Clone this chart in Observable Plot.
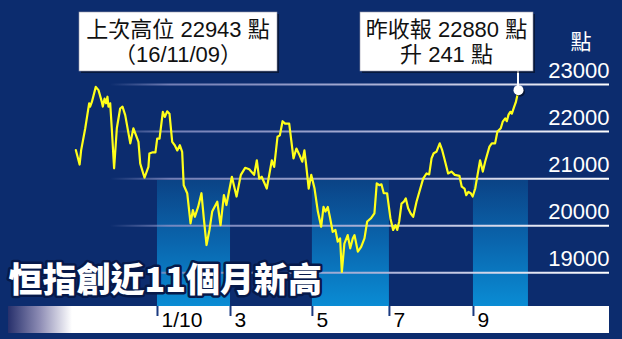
<!DOCTYPE html>
<html>
<head>
<meta charset="utf-8">
<script src="https://cdn.jsdelivr.net/npm/d3@7"></script>
<script src="https://cdn.jsdelivr.net/npm/@observablehq/plot@0.6"></script>
<style>
  html, body { margin: 0; padding: 0; background: #0c2c6e; }
  #chart { width: 622px; height: 339px; overflow: hidden; }
</style>
</head>
<body>
<div id="chart"></div>
<script>
// ---- data (trading-day index, Hang Seng Index close) ----
const day = [0.2,2.1,2.9,5.0,7.0,7.5,8.4,10.4,11.8,13.5,14.0,14.9,15.7,16.4,16.9,17.8,18.6,19.8,21.2,22.9,24.1,25.5,28.1,29.7,32.3,33.2,35.4,37.4,37.9,39.6,41.0,41.9,43.1,44.8,45.8,47.0,48.2,49.6,50.9,52.2,53.5,54.7,55.5,57.3,59.0,60.2,61.2,62.9,64.6,65.8,67.2,68.7,70.1,71.3,72.7,74.4,76.1,77.4,80.2,82.6,84.8,87.0,89.1,91.6,93.0,94.2,95.5,98.1,100.7,101.9,103.6,104.8,106.2,107.5,109.6,111.8,113.3,114.9,116.3,117.4,118.3,119.6,120.9,122.6,124.3,126.0,127.2,128.2,129.4,130.6,131.9,133.3,134.5,135.7,136.6,137.9,139.6,140.9,142.2,143.1,144.8,146.5,148.2,149.6,151.6,153.3,154.5,155.9,156.9,158.1,159.8,161.5,162.9,164.1,165.0,166.0,167.2,168.4,169.4,170.6,171.9,173.2,174.9,178.3,180.0,181.4,182.6,183.7,185.1,186.8,188.1,189.4,191.1,192.8,194.5,196.9,198.1,199.5,200.4,201.5,202.7,203.7,205.0,206.2,207.5,208.9,210.1,212.3,213.5,215.2,216.4,218.1,219.1,220.4,221.2,222.1,223.0,223.8,225.0,225.8,227.2];
const close = [21605,21300,21605,22070,22600,22530,22630,22950,22880,22630,22530,22700,22600,22740,22530,22600,22070,21220,22070,22490,22530,22350,21750,22070,21780,21320,21020,21250,21535,21560,21560,21850,21850,22420,22310,22430,22380,21780,21710,21600,21710,21570,20860,20690,20050,20330,20190,20400,20690,20160,19590,19910,20300,20400,20510,20010,20650,20440,21040,20620,21080,21230,21200,21080,21390,21000,21040,20790,21390,21250,21890,21920,22220,22170,22170,21430,21640,21500,21360,21600,21290,20790,21080,20790,20300,19980,20400,20300,20400,20160,19870,19910,19660,19730,19020,19620,19800,19520,19730,19800,19450,19550,19730,20090,20160,20260,20900,20860,20880,20690,20690,20160,19910,20010,19910,20090,20470,20510,20580,20370,20260,20190,20510,21000,21110,21090,21430,21540,21570,21750,21600,21390,21110,21150,21080,21060,20830,20790,20650,20720,20690,20620,20790,21080,21390,21150,21360,21680,21750,21750,22000,22070,22210,22280,22220,22360,22420,22380,22530,22620,22880];

const yTicks = [19000, 20000, 21000, 22000, 23000];
const yLabels = ["19000", "20000", "21000", "22000", "23000"];
const monthTicks = [42.05, 79.5, 121.5, 161.0, 204.1];
const monthLabels = ["1/10", "3", "5", "7", "9"];
const bandStarts = [42.05, 121.5, 204.1];
const bandEnds = [79.5, 161.0, 232.3];
const title = "恒指創近11個月新高";
const unit = "點";
const note1 = ["上次高位 22943 點", "（16/11/09）"];
const note2 = ["昨收報 22880 點", "升 241 點"];

// ---- derived tables ----
const data = day.map((d, i) => ({day: d, close: close[i]}));
const last = data[data.length - 1];
const bands = bandStarts.map((s, i) => ({x1: s, x2: bandEnds[i]}));
const months = monthTicks.map((t, i) => ({t, label: monthLabels[i]}));
const yLab = yTicks.map((v, i) => ({v, label: yLabels[i]}));

const NAVY = "#0c2c6e";
const latin = "'Liberation Sans', Arial, 'Noto Sans CJK TC', sans-serif";
const cjk = "'Noto Sans CJK TC', 'Noto Sans CJK SC', sans-serif";

// defs + bottom strip (decor)
function decor(index, scales, values, dims) {
  const g = d3.create("svg:g");
  const defs = g.append("defs");
  const bg = defs.append("linearGradient").attr("id", "bandGrad")
    .attr("x1", 0).attr("y1", 0).attr("x2", 0).attr("y2", 1);
  bg.append("stop").attr("offset", "0").attr("stop-color", "#0b4386");
  bg.append("stop").attr("offset", "0.5").attr("stop-color", "#0a66ae");
  bg.append("stop").attr("offset", "1").attr("stop-color", "#0a8cd4");
  const gg = defs.append("linearGradient").attr("id", "gridGrad")
    .attr("gradientUnits", "userSpaceOnUse")
    .attr("x1", dims.marginLeft).attr("x2", dims.width - dims.marginRight)
    .attr("y1", 0).attr("y2", 0);
  gg.append("stop").attr("offset", "0").attr("stop-color", "#8c93c8").attr("stop-opacity", 0);
  gg.append("stop").attr("offset", "0.12").attr("stop-color", "#8c93c8").attr("stop-opacity", 0.8);
  gg.append("stop").attr("offset", "0.6").attr("stop-color", "#b6bbdc").attr("stop-opacity", 1);
  gg.append("stop").attr("offset", "1").attr("stop-color", "#ffffff").attr("stop-opacity", 1);
  const sg = defs.append("linearGradient").attr("id", "stripGrad")
    .attr("gradientUnits", "userSpaceOnUse")
    .attr("x1", 8).attr("x2", 72).attr("y1", 0).attr("y2", 0);
  sg.append("stop").attr("offset", "0").attr("stop-color", "#27306c");
  sg.append("stop").attr("offset", "0.5").attr("stop-color", "#8e8db5");
  sg.append("stop").attr("offset", "1").attr("stop-color", "#ffffff");
  const top = dims.height - dims.marginBottom;
  g.append("rect").attr("x", 8).attr("y", top)
    .attr("width", dims.width - dims.marginRight - 8).attr("height", 27)
    .attr("fill", "url(#stripGrad)");
  return g.node();
}

// annotation boxes + connector
function notes(index, scales) {
  const g = d3.create("svg:g").attr("font-family", latin).attr("font-size", 22).attr("fill", "#111");
  const box = (x, w, lines) => {
    g.append("rect").attr("x", x + 2).attr("y", 14).attr("width", w).attr("height", 59).attr("fill", "rgba(0,0,0,0.45)");
    g.append("rect").attr("x", x).attr("y", 12).attr("width", w).attr("height", 59)
      .attr("fill", "#fff").attr("stroke", "#9a9aaa").attr("stroke-width", 0.6);
    lines.forEach((t, i) => {
      g.append("text").attr("x", x + w / 2).attr("y", 37 + i * 25).attr("text-anchor", "middle").text(t);
    });
  };
  box(79, 198, note1);
  const lx = scales.x(last.day), ly = scales.y(last.close);
  g.append("line").attr("x1", lx).attr("x2", lx).attr("y1", 70).attr("y2", ly)
    .attr("stroke", "#fff").attr("stroke-width", 2);
  box(360, 173, note2);
  return g.node();
}

const chart = Plot.plot({
  width: 622,
  height: 339,
  marginLeft: 110,
  marginRight: 13,
  marginTop: 180,
  marginBottom: 33,
  style: {background: NAVY, overflow: "visible", fontFamily: latin},
  x: {type: "linear", domain: [day[0] - 0.2, last.day], range: [75, 518], axis: null},
  y: {type: "linear", domain: [19000, 23000], range: [272.3, 84], axis: null},
  marks: [
    Plot.rect(bands, {x1: "x1", x2: "x2", fill: "url(#bandGrad)"}),
    decor,
    Plot.ruleY(yTicks, {stroke: "url(#gridGrad)", strokeWidth: 2}),
    Plot.line(data, {x: "day", y: "close", stroke: "#ffff1a", strokeWidth: 2.2}),
    Plot.tickX(months, {x: "t", stroke: "#1b3a80", strokeWidth: 2, insetTop: 116, dy: 10}),
    Plot.text(months, {x: "t", text: "label", frameAnchor: "bottom", textAnchor: "start",
      lineAnchor: "bottom", dx: 4, dy: 20, fill: "#000", fontSize: 21, fontFamily: latin}),
    Plot.text(yLab, {y: "v", text: "label", frameAnchor: "right", textAnchor: "end",
      lineAnchor: "bottom", dy: -7, fill: "#fff", fontSize: 22, fontFamily: latin}),
    Plot.text([{v: yTicks[yTicks.length - 1], t: unit}], {y: "v", text: "t", frameAnchor: "right",
      textAnchor: "end", lineAnchor: "bottom", dx: -18, dy: -36, fill: "#fff", fontSize: 21, fontFamily: cjk}),
    Plot.text([title], {text: d => d, frameAnchor: "bottom-left", textAnchor: "start", lineAnchor: "bottom",
      dx: -102, dy: -15, fontSize: 34, fontWeight: 900, fontFamily: cjk,
      fill: "none", stroke: "#06194a", strokeWidth: 5, strokeLinejoin: "round"}),
    Plot.text([title], {text: d => d, frameAnchor: "bottom-left", textAnchor: "start", lineAnchor: "bottom",
      dx: -102, dy: -15, fontSize: 34, fontWeight: 900, fontFamily: cjk, fill: "#fff"}),
    notes,
    Plot.dot([last], {x: "day", y: "close", r: 5, fill: "rgba(0,0,0,0.5)", dx: 1.5, dy: 1.5}),
    Plot.dot([last], {x: "day", y: "close", r: 5, fill: "#fff"})
  ]
});
document.getElementById("chart").appendChild(chart);
</script>
</body>
</html>
